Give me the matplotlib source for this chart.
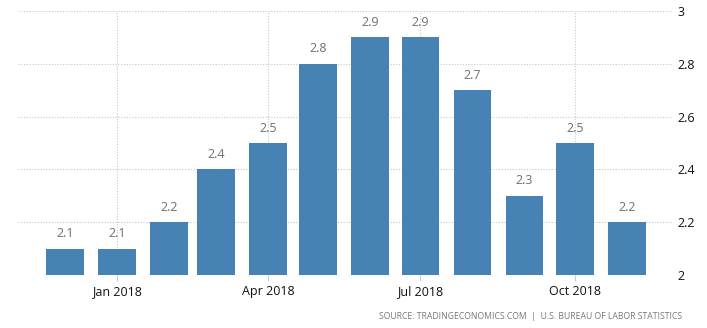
import numpy as np
import matplotlib
matplotlib.use("Agg")
from matplotlib import pyplot as plt
import matplotlib.dates as mdates
from datetime import datetime, timedelta

months = ["2017-12", "2018-01", "2018-02", "2018-03", "2018-04", "2018-05",
          "2018-06", "2018-07", "2018-08", "2018-09", "2018-10", "2018-11"]
values = [2.1, 2.1, 2.2, 2.4, 2.5, 2.8, 2.9, 2.9, 2.7, 2.3, 2.5, 2.2]
tick_months = ["2018-01", "2018-04", "2018-07", "2018-10"]
tick_labels = ["Jan 2018", "Apr 2018", "Jul 2018", "Oct 2018"]
yticks = [2, 2.2, 2.4, 2.6, 2.8, 3]
ytick_labels = ["2", "2.2", "2.4", "2.6", "2.8", "3"]
source = "SOURCE: TRADINGECONOMICS.COM  |  U.S. BUREAU OF LABOR STATISTICS"

dates = [datetime.strptime(m, "%Y-%m") for m in months]
tdates = [datetime.strptime(m, "%Y-%m") for m in tick_months]

plt.rcParams['font.family'] = ['Open Sans', 'DejaVu Sans']

fig = plt.figure(figsize=(7.07, 3.28), dpi=100)
ax = fig.add_axes([0.0255, 0.1616, 0.925, 0.805])

ax.bar(dates, values, width=22.5, color="#4682B4", zorder=3)
for d, v in zip(dates, values):
    ax.annotate("%.1f" % v, (mdates.date2num(d), v), xytext=(0, 6),
                textcoords="offset points", ha="center", va="bottom",
                fontsize=9, color="#707070")

ax.set_ylim(2, 3)
ax.set_xlim(dates[0] - timedelta(days=28), dates[-1] + timedelta(days=27))
ax.set_xticks(tdates)
ax.set_xticklabels(tick_labels)
ax.set_yticks(yticks)
ax.set_yticklabels(ytick_labels)
ax.yaxis.tick_right()
ax.tick_params(axis="y", length=0, pad=4, labelsize=9, labelcolor="#111111")
ax.tick_params(axis="x", length=4, color="#cccccc", pad=3, labelsize=9,
               labelcolor="#111111")
ax.grid(True, linestyle=(0, (1, 1.5)), color="#c8c8c8", linewidth=0.8, zorder=0)
for s in ax.spines.values():
    s.set_visible(False)

fig.text(0.965, 0.035, source, ha="right", va="center", fontsize=6.2,
         color="#777777")

plt.savefig("out.png", dpi=100)
